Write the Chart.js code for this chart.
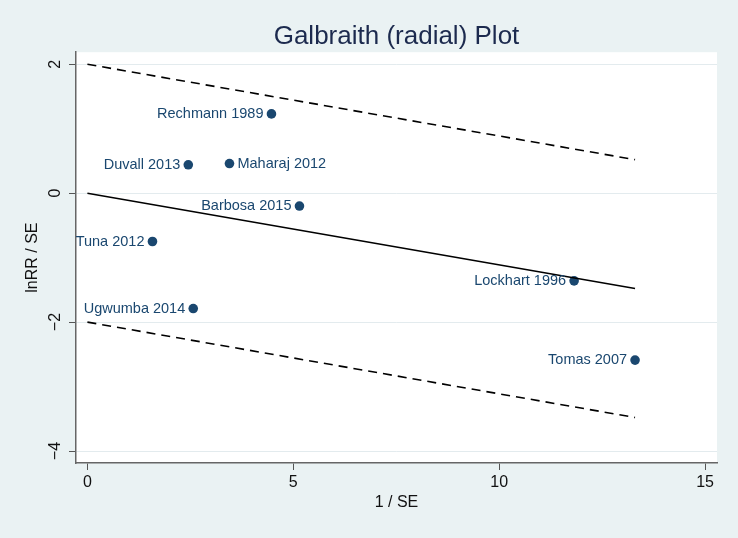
<!DOCTYPE html>
<html>
<head>
<meta charset="utf-8">
<script src="https://cdn.jsdelivr.net/npm/chart.js@4.4.1/dist/chart.umd.min.js"></script>
<style>
  html, body { margin: 0; padding: 0; background: #eaf2f3; }
  #wrap { width: 738px; height: 538px; }
</style>
</head>
<body>
<div id="wrap"><canvas id="galbraith"></canvas></div>
<script>
// values
const studies = ["Rechmann 1989", "Duvall 2013", "Maharaj 2012", "Barbosa 2015",
                 "Tuna 2012", "Lockhart 1996", "Ugwumba 2014", "Tomas 2007"];
const precision = [4.47, 2.45, 3.45, 5.15, 1.58, 11.82, 2.57, 13.30];   // 1 / SE
const zScores = [1.23, 0.44, 0.46, -0.20, -0.75, -1.36, -1.79, -2.59];  // lnRR / SE

const lineX = [0, 13.30];
const fitY = [0, -1.48];
const upperY = [2, 0.52];
const lowerY = [-2, -3.48];

const xTicks = [0, 5, 10, 15];
const yTicks = [-4, -2, 0, 2];

const labelRight = ["Maharaj 2012"];

const navy = "#1a476f";
const fontFamily = "'Liberation Sans', Arial, Helvetica, sans-serif";

const toPoints = (xs, ys) => xs.map((x, i) => ({ x: x, y: ys[i] }));
const minus = v => String(v).replace("-", "\u2212");

const plotBackground = {
  id: "plotBackground",
  beforeDraw(chart) {
    const { ctx, chartArea: a } = chart;
    ctx.save();
    ctx.fillStyle = "#ffffff";
    ctx.fillRect(a.left, a.top, a.right - a.left, a.bottom - a.top);
    ctx.restore();
  }
};

const studyLabels = {
  id: "studyLabels",
  afterDatasetsDraw(chart) {
    const { ctx, scales } = chart;
    ctx.save();
    ctx.font = "14.5px " + fontFamily;
    ctx.fillStyle = navy;
    ctx.textBaseline = "middle";
    studies.forEach((name, i) => {
      const px = scales.x.getPixelForValue(precision[i]);
      const py = scales.y.getPixelForValue(zScores[i]);
      if (labelRight.includes(name)) {
        ctx.textAlign = "left";
        ctx.fillText(name, px + 8, py);
      } else {
        ctx.textAlign = "right";
        ctx.fillText(name, px - 8, py);
      }
    });
    ctx.restore();
  }
};

new Chart(document.getElementById("galbraith"), {
  type: "scatter",
  data: {
    datasets: [
      {
        type: "line",
        data: toPoints(lineX, upperY),
        borderColor: "#000",
        borderWidth: 1.6,
        borderDash: [9, 6],
        pointRadius: 0,
        fill: false
      },
      {
        type: "line",
        data: toPoints(lineX, fitY),
        borderColor: "#000",
        borderWidth: 1.5,
        pointRadius: 0,
        fill: false
      },
      {
        type: "line",
        data: toPoints(lineX, lowerY),
        borderColor: "#000",
        borderWidth: 1.6,
        borderDash: [9, 6],
        pointRadius: 0,
        fill: false
      },
      {
        label: "studies",
        data: toPoints(precision, zScores),
        backgroundColor: navy,
        borderColor: navy,
        pointRadius: 4.8,
        pointBorderWidth: 0
      }
    ]
  },
  options: {
    responsive: true,
    maintainAspectRatio: false,
    animation: false,
    layout: { padding: { left: 0, right: 21, top: 0, bottom: 0 } },
    plugins: {
      legend: { display: false },
      tooltip: { enabled: false },
      title: {
        display: true,
        fullSize: false,
        text: "Galbraith (radial) Plot",
        color: "#1c2a4e",
        font: { family: fontFamily, size: 26, weight: "normal" },
        padding: { top: 21, bottom: 0 }
      }
    },
    scales: {
      x: {
        type: "linear",
        min: -0.277,
        max: 15.29,
        afterBuildTicks: s => { s.ticks = xTicks.map(v => ({ value: v })); },
        afterFit: s => { s.height = 75; },
        grid: { drawOnChartArea: false, drawTicks: true, tickLength: 7, tickColor: "#555", tickWidth: 1 },
        border: { display: true, color: "#666", width: 1.5 },
        ticks: {
          color: "#111",
          padding: 3,
          font: { family: fontFamily, size: 16 },
          maxRotation: 0,
          callback: v => minus(v)
        },
        title: {
          display: true,
          text: "1 / SE",
          color: "#111",
          font: { family: fontFamily, size: 16 },
          padding: { top: 0, bottom: 26 }
        }
      },
      y: {
        type: "linear",
        min: -4.186,
        max: 2.187,
        afterBuildTicks: s => { s.ticks = yTicks.map(v => ({ value: v })); },
        afterFit: s => { s.width = 76; },
        grid: { color: "#e3ebee", lineWidth: 1, drawTicks: true, tickLength: 7, tickColor: "#555", tickWidth: 1 },
        border: { display: true, color: "#666", width: 1.5 },
        ticks: {
          color: "#111",
          padding: 4,
          crossAlign: "center",
          minRotation: 90,
          maxRotation: 90,
          font: { family: fontFamily, size: 16 },
          callback: v => minus(v)
        },
        title: {
          display: true,
          text: "lnRR / SE",
          color: "#111",
          font: { family: fontFamily, size: 16 },
          padding: { top: 23, bottom: 0 }
        }
      }
    }
  },
  plugins: [plotBackground, studyLabels]
});
</script>
</body>
</html>
